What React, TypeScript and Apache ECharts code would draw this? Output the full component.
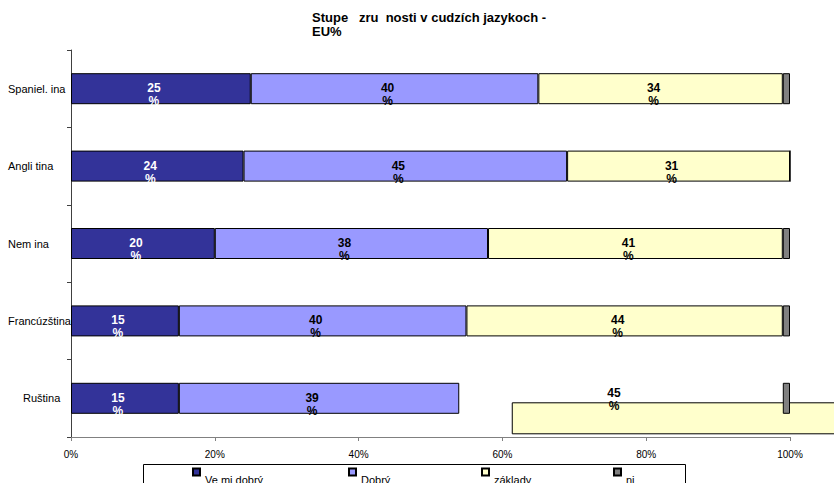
import React, { useEffect, useRef } from "react";
import * as echarts from "echarts";

const titleText = "Stupe   zru  nosti v cudzích jazykoch -\nEU%";
const categories = ["Spaniel. ina", "Angli tina", "Nem ina", "Francúzština", "Ruština"];
const seriesNames = ["Ve mi dobrý", "Dobrý", "základy", "ni"];
const velmiDobry = [25, 24, 20, 15, 15];
const dobry = [40, 45, 38, 40, 39];
const zaklady = [34, 31, 41, 44, 45];
const ni = [1, 0, 1, 1, 1];
const xTicks = [0, 20, 40, 60, 80, 100];

const colors = ["#333399", "#9999FF", "#FFFFCC", "#808080"];
const shiftedCategory = "Ruština";
const legendLefts = [192, 348, 481, 613];
const FONT = "Liberation Sans, Arial, sans-serif";

export default function App() {
  const ref = useRef<HTMLDivElement>(null);
  useEffect(() => {
    if (!ref.current) return;
    const chart = echarts.init(ref.current, undefined, { renderer: "svg" });
    const shiftIdx = categories.indexOf(shiftedCategory);
    const label = (color: string) => ({
      show: true,
      formatter: (p: any) => (p.value > 0 ? `${p.value}\n%` : ""),
      color,
      fontFamily: FONT,
      fontWeight: "bold",
      fontSize: 12,
      lineHeight: 13,
      offset: [-7, 6],
    });
    const base = {
      type: "bar",
      stack: "total",
      barWidth: 31,
      z: 3,
      itemStyle: { borderColor: "#000", borderWidth: 1 },
    };
    const yellowData = zaklady.map((v, i) =>
      i === shiftIdx
        ? {
            value: v,
            itemStyle: { color: "rgba(0,0,0,0)", borderColor: "rgba(0,0,0,0)" },
            label: { offset: [-7, 1.5] },
          }
        : v
    );
    const shiftStart = velmiDobry[shiftIdx] + dobry[shiftIdx];
    const shiftEnd = shiftStart + zaklady[shiftIdx];

    chart.setOption({
      animation: false,
      title: {
        text: titleText,
        left: 312,
        top: 10,
        padding: 0,
        textStyle: {
          fontFamily: FONT,
          fontWeight: "bold",
          fontSize: 13,
          lineHeight: 14,
          color: "#000",
        },
      },
      grid: { left: 71, right: 44, top: 50, bottom: 46 },
      xAxis: {
        type: "value",
        min: xTicks[0],
        max: xTicks[xTicks.length - 1],
        interval: 20,
        axisLine: { show: true, lineStyle: { color: "#808080", width: 1 } },
        axisTick: { show: true, length: 4, lineStyle: { color: "#808080" } },
        splitLine: { show: false },
        axisLabel: {
          formatter: "{value}%",
          fontFamily: FONT,
          fontSize: 10,
          color: "#000",
          margin: 12,
        },
      },
      yAxis: {
        type: "category",
        inverse: true,
        data: categories,
        axisLine: { show: true, lineStyle: { color: "#404040", width: 1 } },
        axisTick: { show: true, length: 4, lineStyle: { color: "#404040" } },
        axisLabel: {
          align: "left",
          margin: 63,
          fontFamily: FONT,
          fontSize: 11,
          color: "#000",
          formatter: (v: string) => (v === shiftedCategory ? `{r|${v}}` : v),
          rich: { r: { padding: [0, 0, 0, 15], fontSize: 11, fontFamily: FONT, color: "#000" } },
        },
      },
      legend: seriesNames.map((n, i) => ({
        selectedMode: false,
        left: legendLefts[i],
        top: 456,
        padding: 0,
        itemWidth: 7,
        itemHeight: 7,
        icon: "rect",
        data: [n],
        formatter: (name: string) => `\n${name}`,
        textStyle: {
          fontFamily: FONT,
          fontSize: 11,
          lineHeight: 16,
          color: "#000",
        },
      })),
      graphic: [
        {
          type: "rect",
          left: 143,
          top: 464,
          z: -1,
          shape: { width: 542, height: 40 },
          style: { fill: "#fff", stroke: "#000", lineWidth: 1 },
        },
      ],
      series: [
        { ...base, name: seriesNames[0], data: velmiDobry, itemStyle: { ...base.itemStyle, color: colors[0] }, label: label("#fff") },
        { ...base, name: seriesNames[1], data: dobry, itemStyle: { ...base.itemStyle, color: colors[1] }, label: label("#000") },
        { ...base, name: seriesNames[2], data: yellowData, itemStyle: { ...base.itemStyle, color: colors[2] }, label: label("#000") },
        { ...base, name: seriesNames[3], data: ni, itemStyle: { ...base.itemStyle, color: colors[3] }, label: { show: false } },
        {
          type: "custom",
          z: 2,
          clip: false,
          silent: true,
          encode: { x: [0, 1], y: 2 },
          data: [[shiftStart, shiftEnd, shiftIdx]],
          renderItem: (params: any, api: any) => {
            const s = api.coord([api.value(0), api.value(2)]);
            const e = api.coord([api.value(1), api.value(2)]);
            const dx = 53;
            const dy = 20;
            return {
              type: "rect",
              shape: { x: s[0] + dx, y: s[1] - 15.5 + dy, width: e[0] - s[0], height: 31 },
              style: { fill: colors[2], stroke: "#000", lineWidth: 1 },
            };
          },
        },
      ],
    });
    return () => chart.dispose();
  }, []);
  return (
    <div
      ref={ref}
      style={{ position: "fixed", left: 0, top: 0, width: 834, height: 483, background: "#fff" }}
    />
  );
}
